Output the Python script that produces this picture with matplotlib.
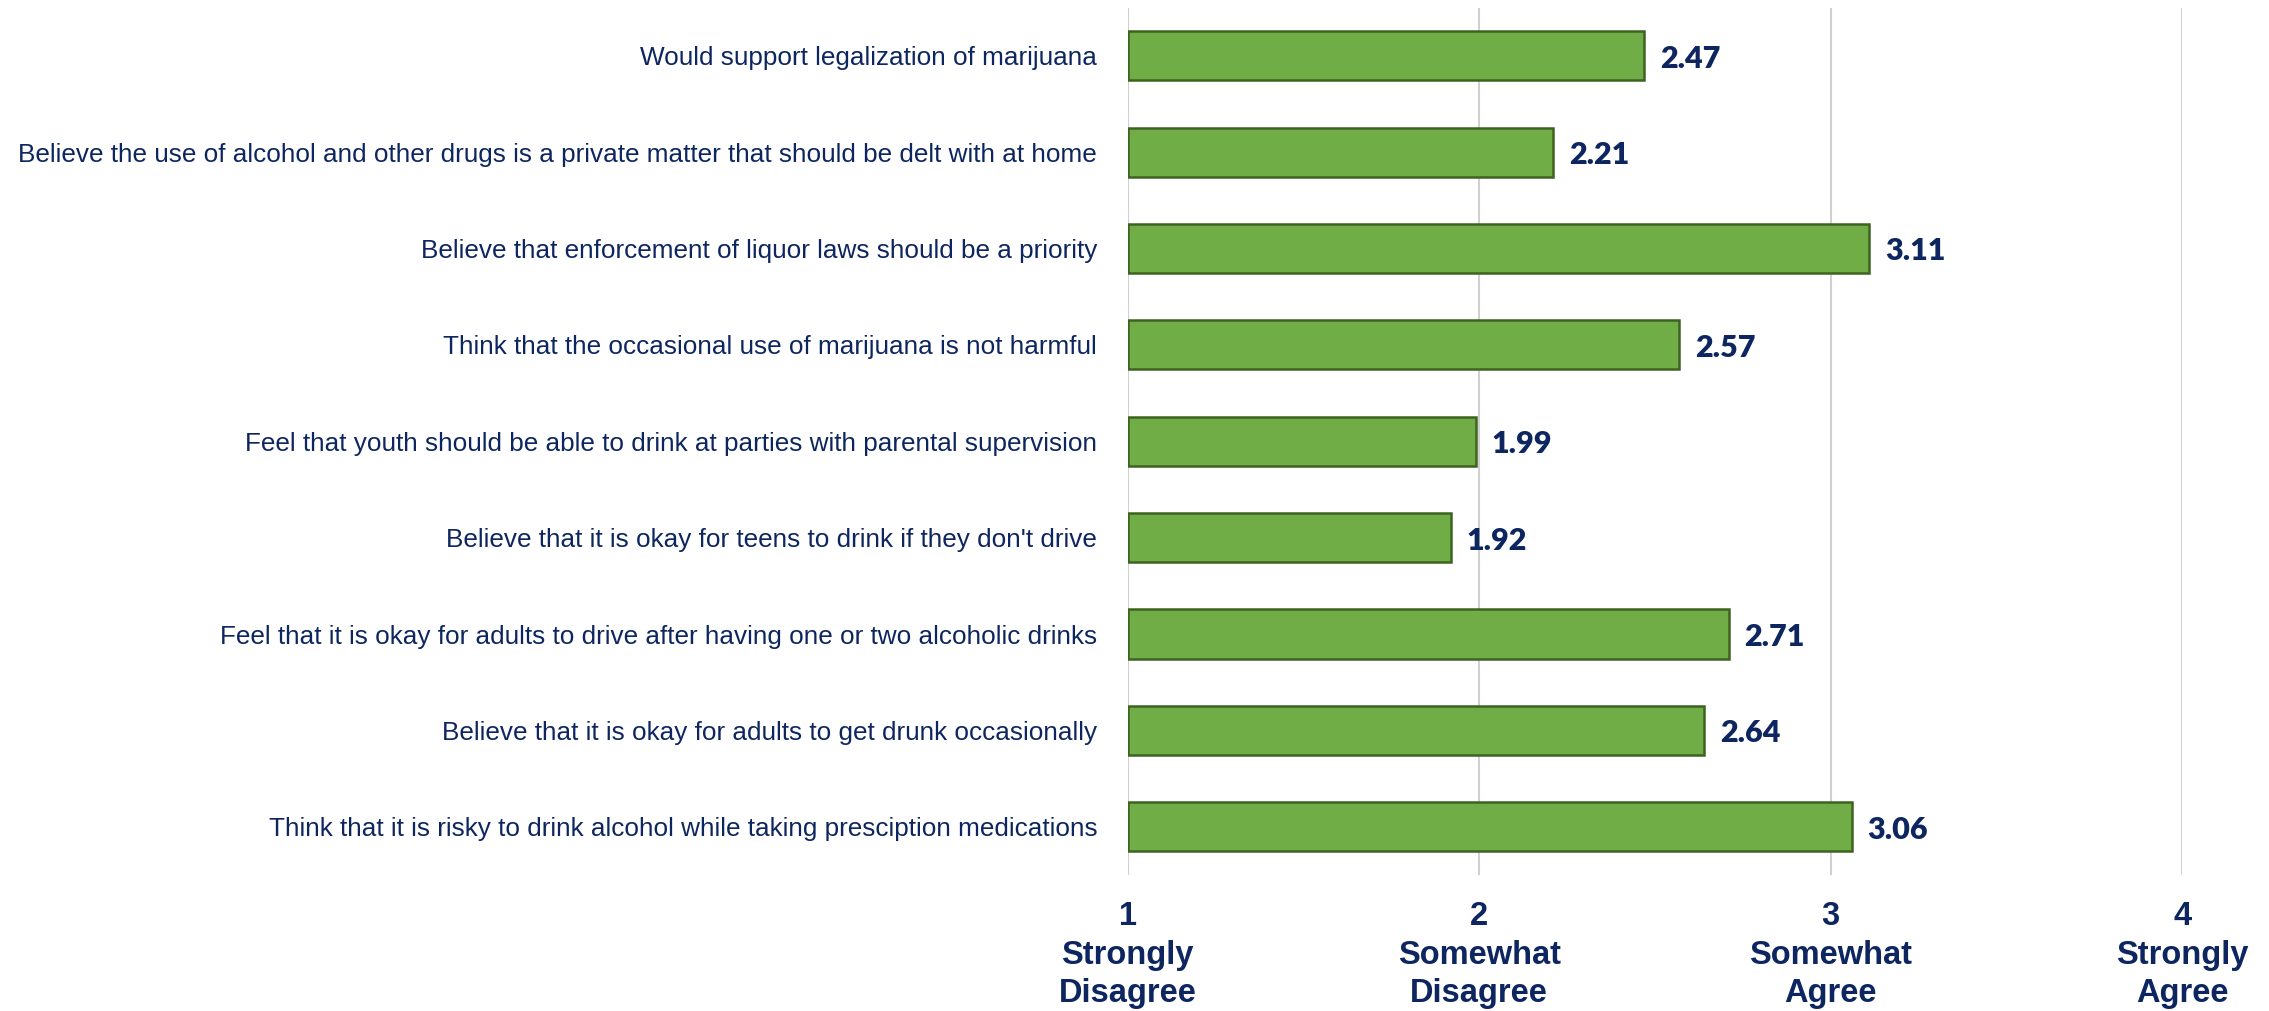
import matplotlib.pyplot as plt
from matplotlib import font_manager

# survey statements (top to bottom) and mean agreement scores
statements = [
    'Would support legalization of marijuana',
    'Believe the use of alcohol and other drugs is a private matter that should be delt with at home',
    'Believe that enforcement of liquor laws should be a priority',
    'Think that the occasional use of marijuana is not harmful',
    'Feel that youth should be able to drink at parties with parental supervision',
    "Believe that it is okay for teens to drink if they don't drive",
    'Feel that it is okay for adults to drive after having one or two alcoholic drinks',
    'Believe that it is okay for adults to get drunk occasionally',
    'Think that it is risky to drink alcohol while taking presciption medications',
]
scores = [2.47, 2.21, 3.11, 2.57, 1.99, 1.92, 2.71, 2.64, 3.06]
scale_ticks = [1, 2, 3, 4]
scale_labels = ['1\nStrongly\nDisagree', '2\nSomewhat\nDisagree', '3\nSomewhat\nAgree', '4\nStrongly\nAgree']

navy = '#0E2660'
names = {f.name for f in font_manager.fontManager.ttflist}
narrow = 'Liberation Sans Narrow' if 'Liberation Sans Narrow' in names else 'Liberation Sans'

fig = plt.figure(figsize=(22.69, 10.11), dpi=100)
ax = fig.add_axes([0.497, 0.1345, 0.4647, 0.858])

ypos = list(range(len(statements)))
ax.barh(ypos, [s - 1 for s in scores], left=1, height=0.51,
        color='#70AD47', edgecolor='#3D6321', linewidth=1.8, zorder=3)

for y, s in zip(ypos, scores):
    ax.text(s + 0.045, y + 0.03, '%.2f' % s, va='center', ha='left',
            fontsize=22, fontweight='heavy', color=navy, family='Lato')

ax.set_xlim(1, 4)
ax.set_ylim(len(statements) - 0.5, -0.5)
ax.set_yticks(ypos)
ax.set_yticklabels(statements, fontsize=18.8, color=navy, family=narrow)
ax.set_xticks(scale_ticks)
ax.set_xticklabels(scale_labels, fontsize=23.5, fontweight='bold', color=navy,
                   family=narrow, linespacing=1.3)
ax.tick_params(axis='y', length=0, pad=22)
ax.tick_params(axis='x', length=0, pad=19)
ax.grid(axis='x', color='#D0D0D0', linewidth=1.5, zorder=0)
for sp in ax.spines.values():
    sp.set_visible(False)

fig.savefig('out.png', dpi=100)
